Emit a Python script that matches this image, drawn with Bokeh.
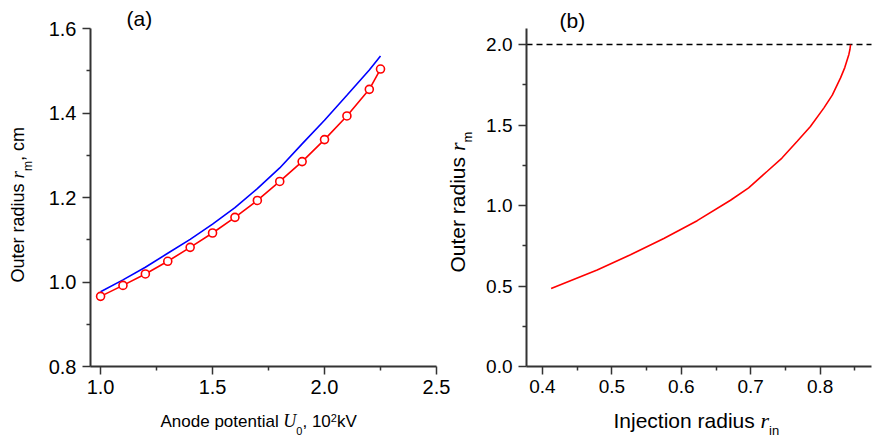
import math
from bokeh.plotting import figure
from bokeh.models import Range1d, FixedTicker, PrintfTickFormatter, Label, LinearAxis
from bokeh.embed import file_html
from bokeh.resources import INLINE

# ---------------- data ----------------
# panel (a): anode potential U0 (10^2 kV) vs outer radius r_m (cm)
U0 = [1.0, 1.1, 1.2, 1.3, 1.4, 1.5, 1.6, 1.7, 1.8, 1.9, 2.0, 2.1, 2.2, 2.25]
rm_sim = [0.966, 0.992, 1.019, 1.049, 1.082, 1.116, 1.153, 1.193, 1.238,
          1.285, 1.337, 1.393, 1.456, 1.504]
rm_theory = [0.977, 1.005, 1.035, 1.068, 1.101, 1.137, 1.176, 1.221, 1.270,
             1.327, 1.383, 1.442, 1.502, 1.535]

# panel (b): injection radius r_in vs outer radius r_m
r_in = [0.4125, 0.4788, 0.5268, 0.5748, 0.6229, 0.6709, 0.697, 0.7238,
        0.745, 0.767, 0.786, 0.8055, 0.8175, 0.8294, 0.8355, 0.8414,
        0.843, 0.8438]
r_m = [0.484, 0.600, 0.694, 0.795, 0.906, 1.033, 1.110, 1.213,
       1.295, 1.399, 1.491, 1.607, 1.686, 1.793, 1.857, 1.939,
       1.971, 2.000]
r_limit = 2.0

a_xlim = (0.955, 2.5)
a_ylim = (0.8, 1.6)
b_xlim = (0.377, 0.874)
b_ylim = (0.0, 2.1)
a_xticks = [1.0, 1.5, 2.0, 2.5]
a_xminor = [1.25, 1.75, 2.25]
a_yticks = [0.8, 1.0, 1.2, 1.4, 1.6]
a_yminor = [0.9, 1.1, 1.3, 1.5]
b_xticks = [0.4, 0.5, 0.6, 0.7, 0.8]
b_xminor = [0.45, 0.55, 0.65, 0.75, 0.85]
b_yticks = [0.0, 0.5, 1.0, 1.5, 2.0]
b_yminor = [0.25, 0.75, 1.25, 1.75]

# ---------------- layout (pixels) ----------------
W, H = 872, 438
A_BOX = (90, 436, 28, 366)    # left, right, top, bottom of panel (a)
B_BOX = (526, 871, 28, 366)   # panel (b)
BASE_FIX = 0.36               # baseline correction (em)

# ---------------- helpers ----------------
SANS = {' ': 278, ',': 278, '.': 278, '(': 333, ')': 333, 'A': 667, 'I': 278,
        'O': 778, 'V': 667, 'a': 556, 'b': 556, 'c': 500, 'd': 556, 'e': 556,
        'i': 222, 'j': 222, 'k': 500, 'l': 222, 'm': 833, 'n': 556, 'o': 556,
        'p': 556, 'r': 333, 's': 500, 't': 278, 'u': 556}
for _d in "0123456789":
    SANS[_d] = 556
SERIF_I = {'r': 389, 'U': 722}

SANS_FONT = "Liberation Sans"
SERIF_FONT = "Liberation Serif"
AXIS_COLOR = "#333333"


def text_width(txt, size, serif):
    tab = SERIF_I if serif else SANS
    return sum(tab.get(c, 556) for c in txt) * size / 1000.0


def chain(p, px, py, pieces, vertical=False):
    """Place text pieces one after another. px, py: canvas pixel position
    (from top-left) of the baseline start. pieces: (text, size, serif_italic,
    shift) with shift>0 lowering the baseline."""
    pos = 0.0
    for txt, size, serif, shift in pieces:
        fix = BASE_FIX * size
        if vertical:
            x, y, ang = px + shift - fix, H - (py - pos), math.pi / 2
        else:
            x, y, ang = px + pos, H - (py + shift - fix), 0.0
        p.add_layout(Label(x=x, y=y, x_units="screen", y_units="screen",
                           text=txt, angle=ang,
                           text_font=SERIF_FONT if serif else SANS_FONT,
                           text_font_style="italic" if serif else "normal",
                           text_font_size=f"{size}px", text_color="black",
                           text_align="left", text_baseline="alphabetic"))
        pos += text_width(txt, size, serif)


def make_ranges(box, xlim, ylim):
    l, r, t, b = box
    sx = (r - l) / (xlim[1] - xlim[0])
    sy = (b - t) / (ylim[1] - ylim[0])
    xr = Range1d(xlim[0] - l / sx, xlim[1] + (W - r) / sx)
    yr = Range1d(ylim[0] - (H - b) / sy, ylim[1] + t / sy)
    return xr, yr


def style_axis(ax, ticks, minor, bounds, lab_size, standoff):
    ax.ticker = FixedTicker(ticks=ticks, minor_ticks=minor)
    ax.bounds = bounds
    ax.formatter = PrintfTickFormatter(format="%.1f")
    ax.axis_line_width = 2
    ax.axis_line_color = AXIS_COLOR
    ax.major_tick_line_color = AXIS_COLOR
    ax.minor_tick_line_color = AXIS_COLOR
    ax.major_tick_line_width = 1.5
    ax.minor_tick_line_width = 1.5
    ax.major_tick_out = 8
    ax.major_tick_in = 0
    ax.minor_tick_out = 4
    ax.minor_tick_in = 0
    ax.major_label_standoff = standoff
    ax.major_label_text_font = SANS_FONT
    ax.major_label_text_font_size = f"{lab_size}px"
    ax.major_label_text_color = "black"


ax_r, ay_r = make_ranges(A_BOX, a_xlim, a_ylim)
bx_r, by_r = make_ranges(B_BOX, b_xlim, b_ylim)

p = figure(width=W, height=H, x_range=ax_r, y_range=ay_r,
           x_axis_location=None, y_axis_location=None,
           output_backend="svg", toolbar_location=None,
           min_border=0, min_border_left=0, min_border_right=0,
           min_border_top=0, min_border_bottom=0)
p.extra_x_ranges = {"bx": bx_r}
p.extra_y_ranges = {"by": by_r}
p.grid.visible = False
p.outline_line_color = None
p.background_fill_color = "white"
p.border_fill_color = "white"

# axes of panel (a)
xa = LinearAxis(fixed_location=a_ylim[0])
style_axis(xa, a_xticks, a_xminor, a_xlim, 20, 5)
p.add_layout(xa, "below")
ya = LinearAxis(fixed_location=a_xlim[0])
style_axis(ya, a_yticks, a_yminor, a_ylim, 20, 6)
p.add_layout(ya, "left")

# axes of panel (b)
xb = LinearAxis(x_range_name="bx", y_range_name="by", fixed_location=b_ylim[0])
style_axis(xb, b_xticks, b_xminor, b_xlim, 19, 5)
p.add_layout(xb, "below")
yb = LinearAxis(x_range_name="bx", y_range_name="by", fixed_location=b_xlim[0])
style_axis(yb, b_yticks, b_yminor, b_ylim, 19, 6)
p.add_layout(yb, "left")

# ---------------- panel (a) marks ----------------
p.line(U0, rm_theory, line_color="#0000ff", line_width=1.6)
p.line(U0, rm_sim, line_color="#ff0000", line_width=1.6)
p.scatter(U0, rm_sim, marker="circle", size=8, fill_color="white",
          line_color="#ff0000", line_width=1.6)

chain(p, 126, 26, [("(a)", 21, False, 0)])
chain(p, 160, 427, [("Anode potential ", 17, False, 0),
                    ("U", 18, True, 0),
                    ("0", 11, False, 7),
                    (", 10", 17, False, 0),
                    ("2", 11, False, -6),
                    ("kV", 17, False, 0)])
chain(p, 24, 282, [("Outer radius ", 18, False, 0),
                   ("r", 19, True, 0),
                   ("m", 12, False, 8),
                   (", cm", 18, False, 0)], vertical=True)

# ---------------- panel (b) marks ----------------
p.line(list(b_xlim), [r_limit, r_limit], line_color="black",
       line_width=1.5, line_dash="6 4", x_range_name="bx", y_range_name="by")
p.line(r_in, r_m, line_color="#ff0000", line_width=1.6,
       x_range_name="bx", y_range_name="by")

chain(p, 559, 28, [("(b)", 21, False, 0)])
chain(p, 613, 428, [("Injection radius ", 21, False, 0),
                    ("r", 22, True, 0),
                    ("in", 13, False, 7)])
chain(p, 465, 272, [("Outer radius ", 21, False, 0),
                    ("r", 22, True, 0),
                    ("m", 13, False, 7)], vertical=True)

open("out.html", "w").write(file_html(p, INLINE))
